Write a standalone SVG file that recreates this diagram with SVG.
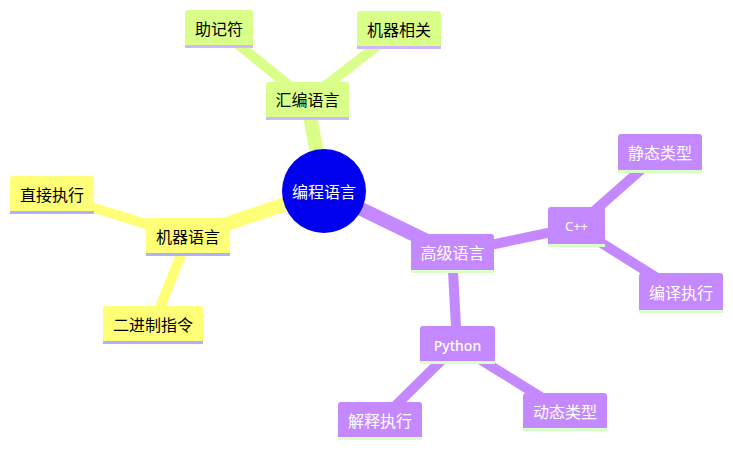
<svg xmlns="http://www.w3.org/2000/svg" width="733" height="450" viewBox="0 0 733 450">
<style>
.t{font-family:"Noto Sans CJK SC","Noto Sans",sans-serif;font-size:16px;text-anchor:middle;dominant-baseline:central}
.dk{fill:#000}
.wh{fill:#fff}
.y{fill:#ffff77}
.g{fill:#d9ff88}
.p{fill:#c589ff}
.by{fill:#b0b0ff}
.bg{fill:#d0b8ff}
.bp{fill:#d8ffc8}
.ly{stroke:#ffff77;fill:none}
.lg{stroke:#d9ff88;fill:none}
.lp{stroke:#c589ff;fill:none}
.m{stroke-width:14}
.s{stroke-width:10}
</style>
<g id="connectors">
<line class="lg m" x1="324" y1="191" x2="307" y2="100"/>
<line class="lg s" x1="219" y1="29" x2="307" y2="100"/>
<line class="lg s" x1="399" y1="29" x2="307" y2="100"/>
<line class="ly m" x1="324" y1="191" x2="188" y2="237"/>
<line class="ly s" x1="52" y1="195" x2="188" y2="237"/>
<line class="ly s" x1="153" y1="325" x2="188" y2="237"/>
<line class="lp m" x1="324" y1="191" x2="452" y2="253"/>
<line class="lp s" x1="452" y1="253" x2="576" y2="227"/>
<line class="lp s" x1="576" y1="227" x2="660" y2="153"/>
<line class="lp s" x1="576" y1="227" x2="681" y2="293"/>
<line class="lp s" x1="452" y1="253" x2="457" y2="345"/>
<line class="lp s" x1="457" y1="345" x2="380" y2="421"/>
<line class="lp s" x1="457" y1="345" x2="565" y2="412"/>
</g>
<g id="root">
<circle cx="324" cy="191" r="42" fill="#0000ee"/>
<text class="t wh" x="324" y="191">编程语言</text>
</g>
<g id="n-asm">
<rect class="g" x="266" y="82" width="83" height="38" rx="3"/>
<rect class="bg" x="266" y="117" width="83" height="3"/>
<text class="t dk" x="307.5" y="99">汇编语言</text>
</g>
<g id="n-mnemonic">
<rect class="g" x="185" y="10" width="68" height="38" rx="3"/>
<rect class="bg" x="185" y="45" width="68" height="3"/>
<text class="t dk" x="219" y="28">助记符</text>
</g>
<g id="n-machdep">
<rect class="g" x="357" y="11" width="84" height="38" rx="3"/>
<rect class="bg" x="357" y="46" width="84" height="3"/>
<text class="t dk" x="399" y="29">机器相关</text>
</g>
<g id="n-mach">
<rect class="y" x="146" y="218" width="84" height="38" rx="3"/>
<rect class="by" x="146" y="253" width="84" height="3"/>
<text class="t dk" x="188" y="236">机器语言</text>
</g>
<g id="n-direct">
<rect class="y" x="10" y="176" width="84" height="38" rx="3"/>
<rect class="by" x="10" y="211" width="84" height="3"/>
<text class="t dk" x="52" y="194">直接执行</text>
</g>
<g id="n-binary">
<rect class="y" x="103" y="306" width="100" height="38" rx="3"/>
<rect class="by" x="103" y="341" width="100" height="3"/>
<text class="t dk" x="153" y="324">二进制指令</text>
</g>
<g id="n-high">
<rect class="p" x="411" y="234" width="83" height="39" rx="3"/>
<rect class="bp" x="411" y="270" width="83" height="3"/>
<text class="t wh" x="452.5" y="252">高级语言</text>
</g>
<g id="n-cpp">
<rect class="p" x="548" y="207" width="57" height="40" rx="3"/>
<rect class="bp" x="548" y="244" width="57" height="3"/>
<text class="t wh" x="576.5" y="226" style="font-size:13px;font-family:'Noto Sans',sans-serif">C++</text>
</g>
<g id="n-static">
<rect class="p" x="618" y="134" width="84" height="39" rx="3"/>
<rect class="bp" x="618" y="170" width="84" height="3"/>
<text class="t wh" x="660" y="152">静态类型</text>
</g>
<g id="n-compile">
<rect class="p" x="639" y="273" width="84" height="40" rx="3"/>
<rect class="bp" x="639" y="310" width="84" height="3"/>
<text class="t wh" x="681" y="292">编译执行</text>
</g>
<g id="n-python">
<rect class="p" x="420" y="326" width="75" height="38" rx="3"/>
<rect class="bp" x="420" y="361" width="75" height="3"/>
<text class="t wh" x="457.5" y="345" style="font-size:14px;font-weight:500;font-family:'Noto Sans',sans-serif">Python</text>
</g>
<g id="n-interp">
<rect class="p" x="338" y="402" width="84" height="38" rx="3"/>
<rect class="bp" x="338" y="437" width="84" height="3"/>
<text class="t wh" x="380" y="420">解释执行</text>
</g>
<g id="n-dynamic">
<rect class="p" x="523" y="393" width="84" height="38" rx="3"/>
<rect class="bp" x="523" y="428" width="84" height="3"/>
<text class="t wh" x="565" y="411">动态类型</text>
</g>
</svg>
